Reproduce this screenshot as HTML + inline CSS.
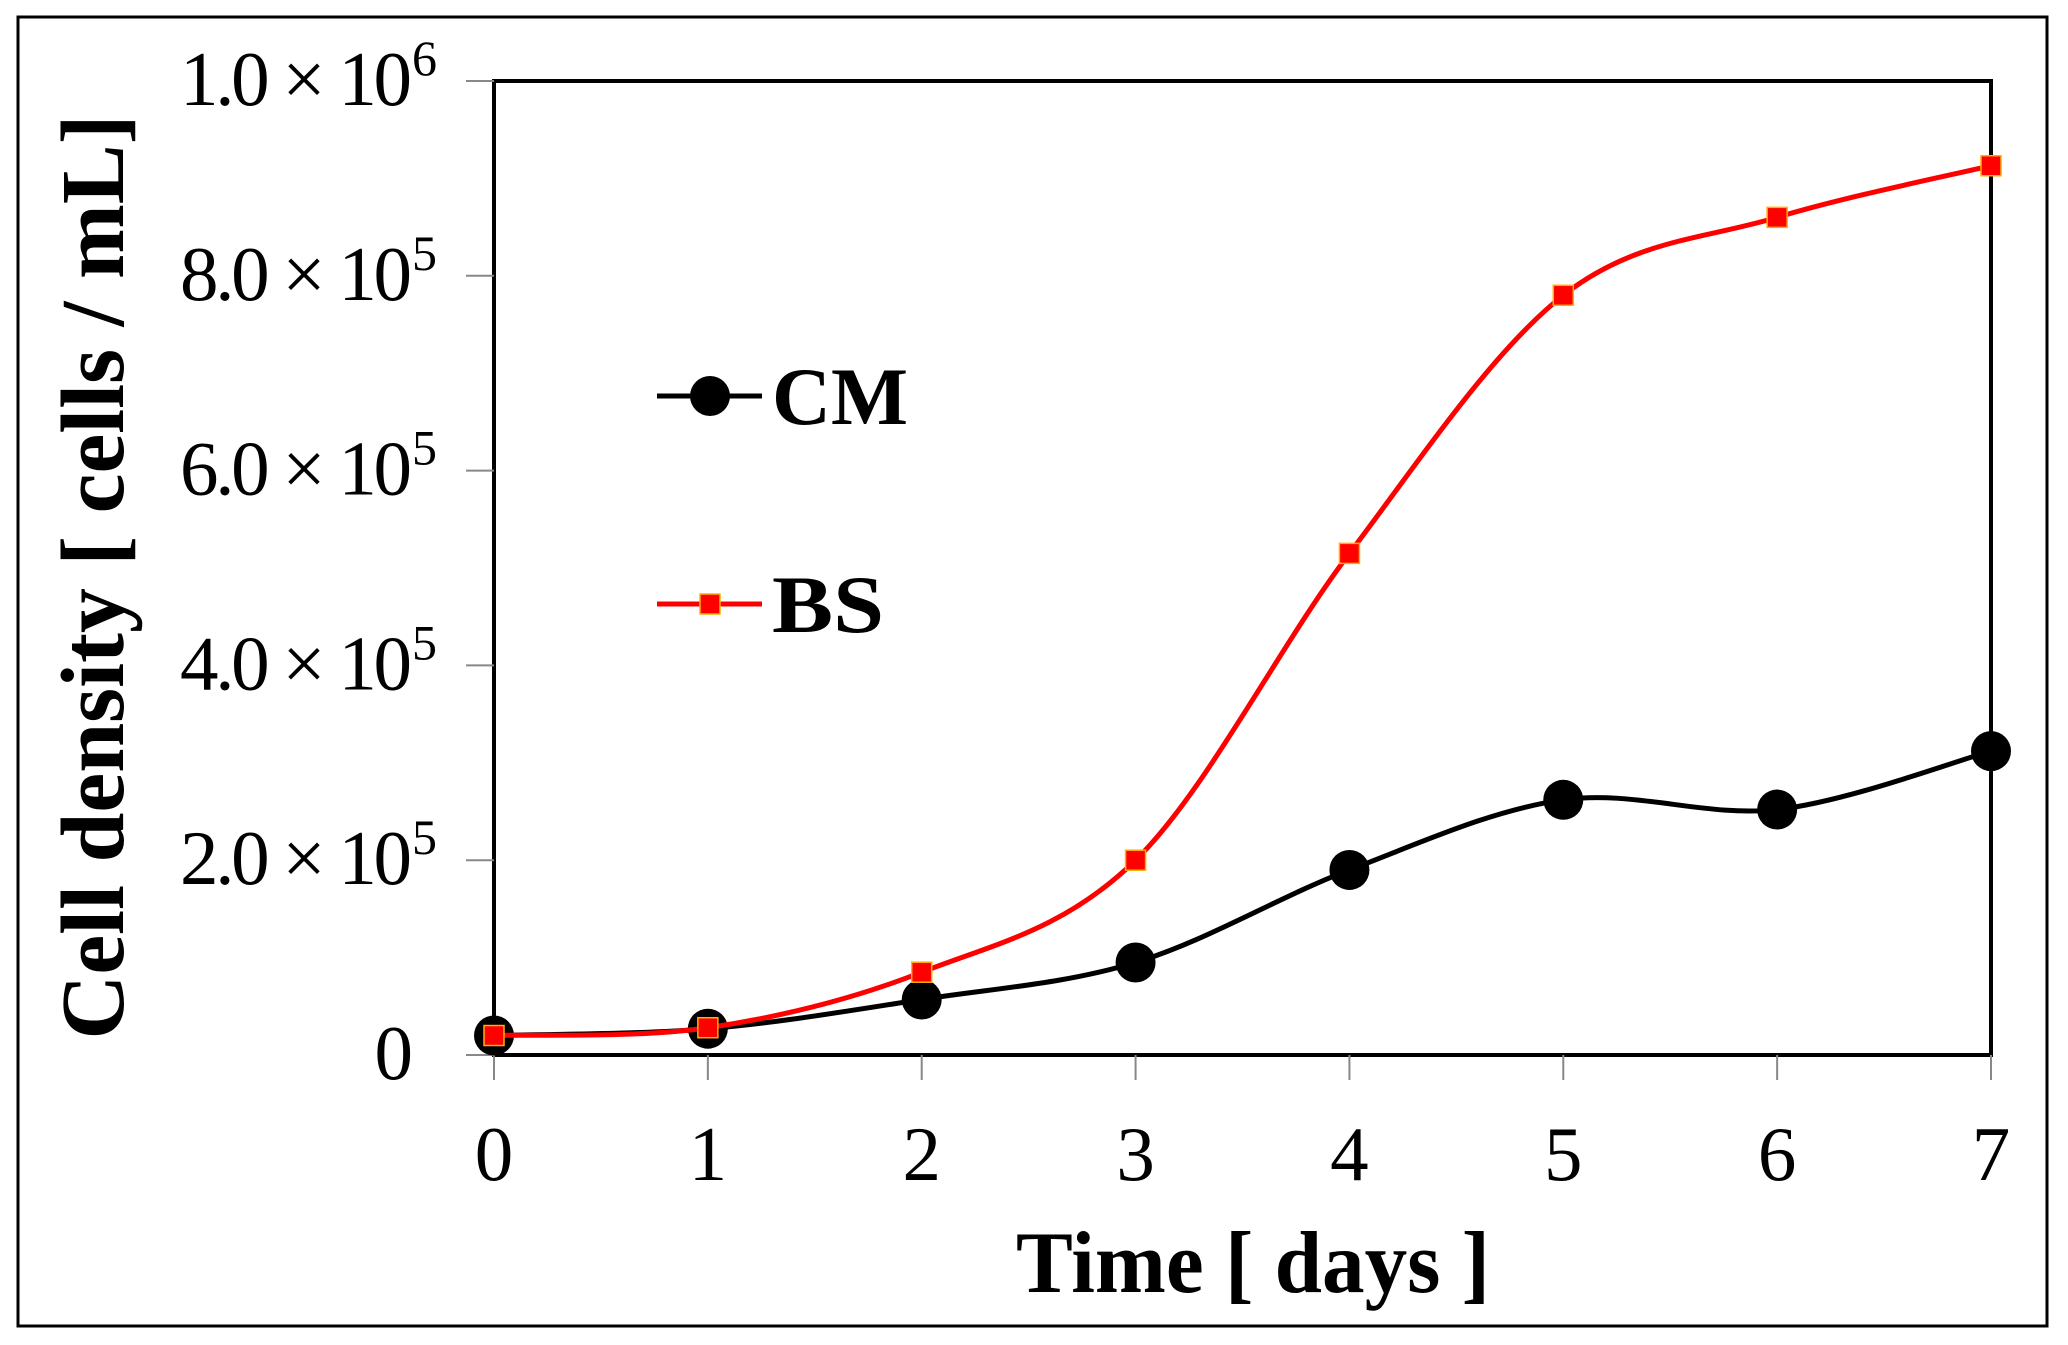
<!DOCTYPE html>
<html><head><meta charset="utf-8"><style>
body{margin:0;background:#fff;}
svg{display:block;}
text{font-family:"Liberation Serif",serif;}
</style></head><body>
<svg width="2068" height="1345" viewBox="0 0 2068 1345">
<rect x="18" y="17" width="2029" height="1309" fill="none" stroke="#000" stroke-width="3"/>
<g id="axes"></g>
<g id="series"></g>
<g>
  <line x1="657" y1="396" x2="762" y2="396" stroke="#000" stroke-width="5"/>
  <circle cx="710" cy="396" r="20" fill="#000"/>
  <text x="772" y="424" font-size="82" font-weight="bold" textLength="136" lengthAdjust="spacingAndGlyphs">CM</text>
  <line x1="657" y1="604" x2="762" y2="604" stroke="#f00" stroke-width="5"/>
  <rect x="700" y="594" width="20" height="20" fill="#f00" stroke="#ffb000" stroke-width="1.5"/>
  <text x="772" y="632" font-size="82" font-weight="bold" textLength="112" lengthAdjust="spacingAndGlyphs">BS</text>
</g>
<text x="1253" y="1292" font-size="88" font-weight="bold" text-anchor="middle" textLength="474" lengthAdjust="spacingAndGlyphs">Time [ days ]</text>
<text transform="translate(123,577) rotate(-90)" font-size="90" font-weight="bold" text-anchor="middle" textLength="925" lengthAdjust="spacingAndGlyphs">Cell density [ cells / mL]</text>
</svg>
<script>
const days=[0,1,2,3,4,5,6,7];
const cmValues=[20000,27000,57000,95000,190000,262000,252000,312000];
const bsValues=[20000,28000,85000,200000,515000,780000,860000,913000];
const yTicks=[0,200000,400000,600000,800000,1000000];
const yTickLabels=["0","2.0","4.0","6.0","8.0","1.0"];
const yTickExp=["","5","5","5","5","6"];
const L=494,R=1991,T=81,B=1055;
const xs=d=>L+(d-0)/(7-0)*(R-L);
const ys=v=>B-v/1e6*(B-T);
const NS="http://www.w3.org/2000/svg";
function mk(tag,attrs,parent){const e=document.createElementNS(NS,tag);for(const k in attrs)e.setAttribute(k,attrs[k]);parent.appendChild(e);return e;}
const ax=document.getElementById('axes');
let f=mk('rect',{x:L,y:T,width:R-L,height:B-T,fill:'none',stroke:'#000','stroke-width':4},ax);


yTicks.forEach((v,i)=>{
  const y=ys(v);
  const t=mk('line',{x1:466,x2:L,y1:y,y2:y,stroke:'#888','stroke-width':2},ax);
  
  
  if(v===0){
    const tx=mk('text',{x:413,y:y+24,'font-size':77,'text-anchor':'end'},ax);
    
    
    tx.textContent='0';
  } else {
    const tx=mk('text',{x:180,y:y+24,'font-size':77,textLength:232,lengthAdjust:'spacing'},ax);
    
    
    tx.textContent=yTickLabels[i]+' \u00d7 10';
    const ex=mk('text',{x:412,y:y-6,'font-size':50},ax);
    
    
    ex.textContent=yTickExp[i];
  }
});
days.forEach(d=>{
  const x=xs(d);
  const t=mk('line',{x1:x,x2:x,y1:B,y2:1080,stroke:'#888','stroke-width':2},ax);
  
  
  const tx=mk('text',{x:x,y:1180,'font-size':77,'text-anchor':'middle'},ax);
  
  
  tx.textContent=String(d);
});
function smooth(pts){
  let d='M'+pts[0][0]+','+pts[0][1];
  for(let i=0;i<pts.length-1;i++){
    const p0=pts[i-1]||pts[i],p1=pts[i],p2=pts[i+1],p3=pts[i+2]||p2;
    const t=1/6;
    d+=' C'+(p1[0]+(p2[0]-p0[0])*t)+','+(p1[1]+(p2[1]-p0[1])*t)+' '+(p2[0]-(p3[0]-p1[0])*t)+','+(p2[1]-(p3[1]-p1[1])*t)+' '+p2[0]+','+p2[1];
  }
  return d;
}
const sg=document.getElementById('series');
const cmPts=days.map((d,i)=>[xs(d),ys(cmValues[i])]);
const bsPts=days.map((d,i)=>[xs(d),ys(bsValues[i])]);
let p=mk('path',{d:smooth(cmPts),fill:'none',stroke:'#000','stroke-width':5},sg);


cmPts.forEach(q=>{
  const c=mk('circle',{cx:q[0],cy:q[1],r:20,fill:'#000'},sg);
  
  
});
p=mk('path',{d:smooth(bsPts),fill:'none',stroke:'#f00','stroke-width':5},sg);


bsPts.forEach(q=>{
  const r=mk('rect',{x:q[0]-10,y:q[1]-10,width:20,height:20,fill:'#f00',stroke:'#ffb000','stroke-width':1.5},sg);
  
  
});
</script>
</body></html>
